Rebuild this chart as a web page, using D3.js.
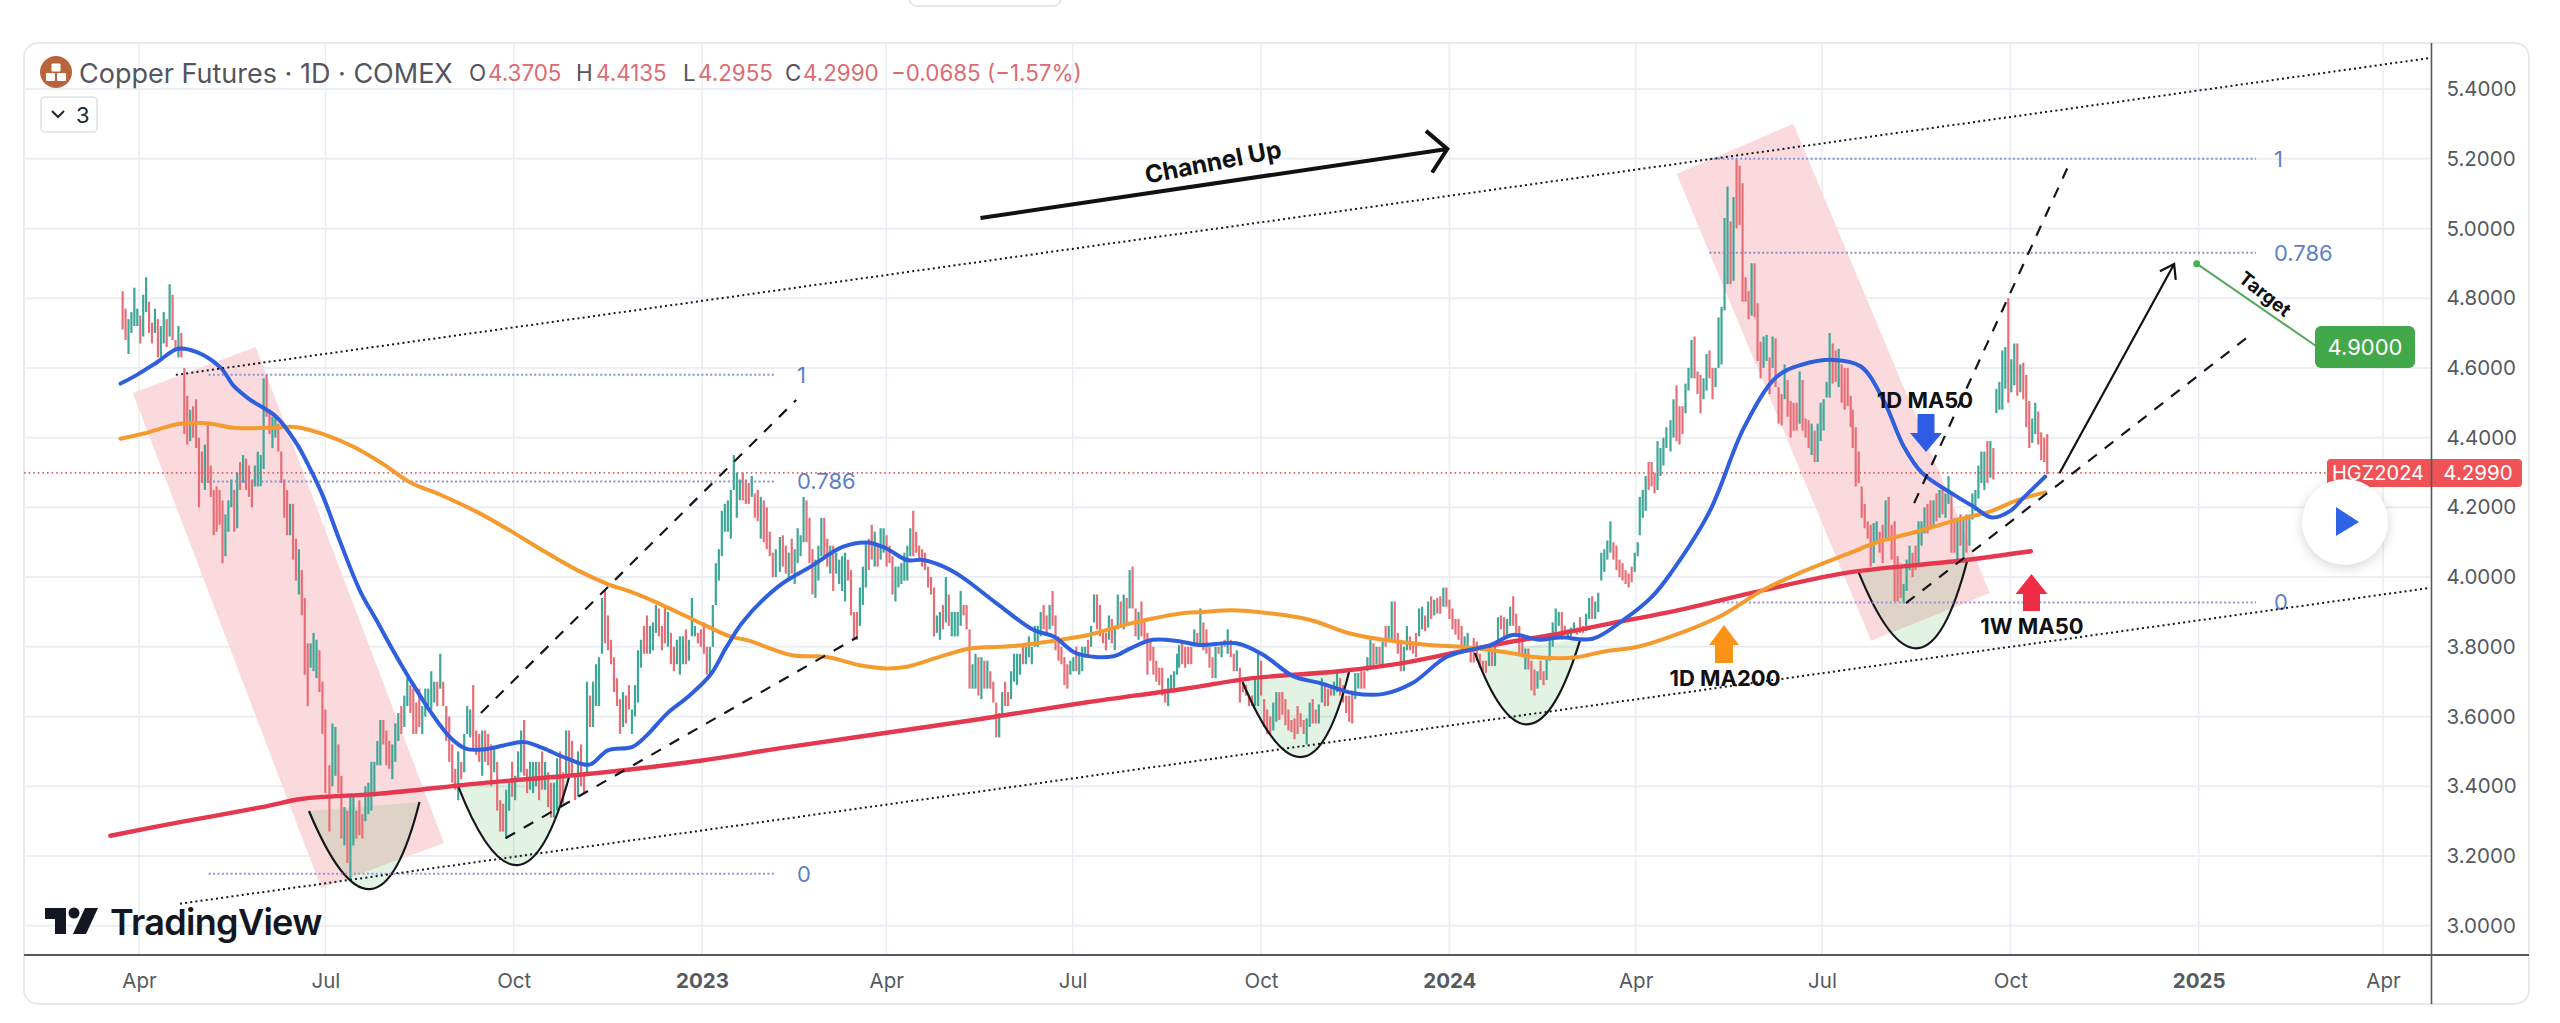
<!DOCTYPE html>
<html>
<head>
<meta charset="utf-8">
<title>Copper Futures</title>
<script src="https://cdn.jsdelivr.net/npm/d3@7"></script>
<style>
  html, body { margin: 0; padding: 0; background: #fff; }
  svg { display: block; font-family: Inter, "Noto Sans", sans-serif; }
</style>
</head>
<body>
<svg id="chart" width="2560" height="1023"></svg>
<script>
// ticks
const priceTicks = [3.0, 3.2, 3.4, 3.6, 3.8, 4.0, 4.2, 4.4, 4.6, 4.8, 5.0, 5.2, 5.4];
const timeTickDates = ["2022-04-01", "2022-07-01", "2022-10-01", "2023-01-01", "2023-04-01", "2023-07-01", "2023-10-01", "2024-01-01", "2024-04-01", "2024-07-01", "2024-10-01", "2025-01-01", "2025-04-01"];
const timeTickLabels = ["Apr", "Jul", "Oct", "2023", "Apr", "Jul", "Oct", "2024", "Apr", "Jul", "Oct", "2025", "Apr"];

// daily bars, one run per stretch of the chart, spread evenly between its two dates.
// Each bar is [from, to]: from > to is a falling (red) bar, from < to a rising (green) one
const barsSpring2022Dates = ["2022-03-24", "2022-07-01"];
const barsSpring2022 = [[4.82,4.71],[4.77,4.68],[4.64,4.74],[4.70,4.76],[4.72,4.83],[4.72,4.77],[4.75,4.67],[4.69,4.81],[4.76,4.86],[4.79,4.70],[4.73,4.67],[4.70,4.77],[4.74,4.63],[4.63,4.72],[4.67,4.76],[4.74,4.66],[4.69,4.84],[4.81,4.68],[4.68,4.65],[4.63,4.72],[4.70,4.63],[4.60,4.41],[4.52,4.38],[4.39,4.48],[4.49,4.40],[4.51,4.37],[4.40,4.20],[4.36,4.27],[4.25,4.38],[4.44,4.27],[4.32,4.23],[4.25,4.12],[4.26,4.13],[4.25,4.15],[4.22,4.04],[4.06,4.18],[4.13,4.22],[4.20,4.28],[4.25,4.13],[4.14,4.30],[4.33,4.25],[4.27,4.35],[4.34,4.25],[4.32,4.23],[4.28,4.20],[4.26,4.32],[4.26,4.36],[4.26,4.35],[4.31,4.57],[4.58,4.46],[4.48,4.41],[4.37,4.46],[4.40,4.46],[4.44,4.36],[4.36,4.27],[4.28,4.17],[4.25,4.12],[4.12,4.21],[4.21,4.05],[4.11,3.99],[3.95,4.08],[4.02,3.89],[3.94,3.72],[3.81,3.63],[3.74,3.81],[3.73,3.84],[3.71,3.82],[3.79,3.67],[3.70,3.55],[3.62,3.38]];

const barsSummer2022Dates = ["2022-07-03", "2023-02-06"];
const barsSummer2022 = [[3.46,3.27],[3.40,3.58],[3.43,3.57],[3.52,3.38],[3.43,3.25],[3.23,3.34],[3.33,3.18],[3.13,3.38],[3.23,3.37],[3.33,3.25],[3.36,3.26],[3.32,3.25],[3.30,3.40],[3.32,3.41],[3.33,3.47],[3.37,3.47],[3.46,3.53],[3.46,3.59],[3.59,3.52],[3.56,3.46],[3.53,3.45],[3.42,3.52],[3.47,3.58],[3.53,3.61],[3.63,3.55],[3.57,3.66],[3.63,3.71],[3.69,3.61],[3.68,3.55],[3.64,3.55],[3.68,3.57],[3.55,3.63],[3.60,3.68],[3.63,3.68],[3.62,3.73],[3.64,3.70],[3.70,3.63],[3.68,3.78],[3.70,3.63],[3.63,3.53],[3.60,3.47],[3.52,3.41],[3.45,3.39],[3.36,3.50],[3.47,3.42],[3.44,3.55],[3.55,3.63],[3.54,3.62],[3.69,3.51],[3.56,3.49],[3.55,3.47],[3.43,3.56],[3.56,3.47],[3.55,3.46],[3.52,3.40],[3.44,3.51],[3.47,3.33],[3.36,3.27],[3.35,3.27],[3.25,3.39],[3.33,3.41],[3.47,3.37],[3.36,3.43],[3.42,3.50],[3.44,3.56],[3.59,3.43],[3.45,3.38],[3.39,3.47],[3.38,3.47],[3.40,3.47],[3.47,3.36],[3.50,3.39],[3.39,3.47],[3.44,3.34],[3.41,3.31],[3.31,3.41],[3.33,3.48],[3.50,3.35],[3.44,3.35],[3.43,3.56],[3.56,3.43],[3.53,3.43],[3.43,3.36],[3.37,3.50],[3.52,3.40],[3.44,3.38],[3.43,3.70],[3.66,3.57],[3.57,3.70],[3.63,3.75],[3.63,3.77],[3.78,3.94],[3.96,3.81],[3.89,3.79],[3.82,3.75],[3.77,3.67],[3.71,3.63],[3.65,3.55],[3.57,3.67],[3.66,3.58],[3.69,3.62],[3.55,3.62],[3.60,3.69],[3.64,3.79],[3.74,3.82],[3.86,3.78],[3.89,3.78],[3.78,3.86],[3.79,3.87],[3.84,3.92],[3.91,3.83],[3.86,3.79],[3.92,3.81],[3.80,3.90],[3.84,3.75],[3.80,3.73],[3.75,3.82],[3.72,3.83],[3.75,3.83],[3.85,3.75],[3.76,3.82],[3.83,3.94],[3.83,3.86],[3.84,3.81],[3.85,3.80],[3.87,3.78],[3.80,3.72],[3.72,3.80],[3.80,3.92],[3.92,4.04],[3.99,4.08],[4.06,4.19],[4.13,4.21],[4.13,4.22],[4.11,4.25],[4.25,4.35],[4.17,4.30],[4.22,4.28],[4.30,4.22],[4.28,4.21],[4.27,4.21],[4.23,4.29],[4.24,4.17],[4.25,4.16],[4.11,4.23],[4.22,4.10],[4.20,4.08],[4.13,4.06],[4.07,4.00],[4.00,4.08]];

const barsSpring2023Dates = ["2023-02-08", "2023-08-21"];
const barsSpring2023 = [[4.015,4.115],[4.12,4.03],[4.09,4.01],[3.99,4.07],[4.11,4.01],[3.98,4.08],[4.04,4.14],[4.06,4.12],[4.10,4.23],[4.22,4.10],[4.17,4.04],[4.08,3.95],[3.94,4.05],[3.99,4.09],[4.06,4.17],[4.17,4.06],[4.11,4.03],[4.01,4.09],[4.09,3.96],[4.01,4.07],[3.98,4.05],[3.96,4.06],[3.93,4.07],[4.05,3.99],[4.02,3.89],[3.90,3.82],[3.90,3.82],[3.86,3.97],[3.92,4.03],[3.97,4.10],[4.11,4.02],[4.15,4.05],[4.03,4.13],[4.09,4.03],[4.05,4.14],[4.07,4.14],[4.12,4.03],[4.09,4.04],[4.06,3.95],[3.93,4.03],[3.97,4.03],[3.98,4.04],[3.99,4.07],[3.99,4.09],[4.06,4.14],[4.19,4.06],[4.13,4.07],[4.09,4.05],[4.08,4.03],[4.07,4.02],[4.03,3.97],[4.00,3.95],[3.97,3.83],[3.84,3.89],[3.82,3.90],[3.92,3.85],[3.87,4.00],[3.95,3.86],[3.83,3.90],[3.83,3.90],[3.83,3.90],[3.86,3.96],[3.92,3.89],[3.92,3.85],[3.85,3.68],[3.68,3.75],[3.68,3.78],[3.77,3.66],[3.65,3.77],[3.76,3.68],[3.68,3.76],[3.73,3.68],[3.70,3.64],[3.64,3.54],[3.54,3.61],[3.60,3.67],[3.70,3.63],[3.67,3.63],[3.65,3.73],[3.70,3.78],[3.69,3.78],[3.72,3.78],[3.80,3.75],[3.75,3.80],[3.77,3.83],[3.75,3.80],[3.80,3.86],[3.80,3.86],[3.83,3.90],[3.92,3.85],[3.89,3.84],[3.85,3.92],[3.96,3.86],[3.89,3.79],[3.83,3.76],[3.80,3.75],[3.77,3.69],[3.75,3.68],[3.72,3.76],[3.73,3.77],[3.80,3.73],[3.72,3.78],[3.73,3.80],[3.77,3.80],[3.82,3.77],[3.80,3.86],[3.87,3.95],[3.95,3.85],[3.92,3.83],[3.85,3.81],[3.84,3.79],[3.82,3.89],[3.88,3.81],[3.79,3.86],[3.85,3.95],[3.93,3.86],[3.85,3.95],[3.94,3.86],[3.91,4.02],[4.03,3.91],[3.91,3.83],[3.82,3.90],[3.93,3.83],[3.88,3.82],[3.84,3.72],[3.82,3.76],[3.80,3.72],[3.76,3.70],[3.74,3.69],[3.74,3.66],[3.68,3.64],[3.63,3.71],[3.67,3.72],[3.68,3.73],[3.72,3.78]];

const barsAutumn2023Dates = ["2023-08-22", "2024-04-02"];
const barsAutumn2023 = [[3.74,3.805],[3.81,3.75],[3.80,3.74],[3.80,3.75],[3.80,3.75],[3.81,3.85],[3.84,3.81],[3.81,3.91],[3.87,3.79],[3.85,3.78],[3.80,3.74],[3.77,3.71],[3.71,3.80],[3.80,3.78],[3.77,3.81],[3.82,3.80],[3.78,3.85],[3.82,3.77],[3.78,3.73],[3.73,3.79],[3.74,3.64],[3.70,3.67],[3.69,3.66],[3.66,3.63],[3.66,3.63],[3.63,3.71],[3.63,3.78],[3.76,3.66],[3.65,3.57],[3.62,3.55],[3.60,3.55],[3.56,3.64],[3.585,3.67],[3.67,3.59],[3.67,3.605],[3.65,3.575],[3.62,3.56],[3.59,3.555],[3.595,3.535],[3.63,3.55],[3.61,3.57],[3.59,3.55],[3.52,3.595],[3.57,3.64],[3.65,3.58],[3.62,3.58],[3.58,3.635],[3.64,3.71],[3.69,3.63],[3.68,3.63],[3.69,3.66],[3.66,3.70],[3.67,3.725],[3.71,3.66],[3.69,3.64],[3.66,3.61],[3.66,3.585],[3.675,3.58],[3.65,3.725],[3.68,3.725],[3.73,3.68],[3.73,3.68],[3.73,3.77],[3.74,3.82],[3.81,3.74],[3.75,3.80],[3.80,3.75],[3.75,3.815],[3.86,3.80],[3.815,3.86],[3.82,3.93],[3.93,3.815],[3.84,3.78],[3.82,3.73],[3.73,3.80],[3.79,3.86],[3.83,3.79],[3.815,3.78],[3.84,3.77],[3.83,3.91],[3.85,3.915],[3.89,3.845],[3.855,3.93],[3.945,3.88],[3.89,3.935],[3.94,3.895],[3.945,3.895],[3.915,3.97],[3.97,3.915],[3.935,3.88],[3.91,3.85],[3.88,3.835],[3.88,3.82],[3.86,3.805],[3.79,3.83],[3.79,3.84],[3.79,3.755],[3.825,3.755],[3.815,3.76],[3.78,3.74],[3.76,3.73],[3.76,3.725],[3.745,3.79],[3.79,3.745],[3.745,3.80],[3.815,3.885],[3.89,3.85],[3.885,3.83],[3.825,3.88],[3.86,3.915],[3.945,3.86],[3.895,3.84],[3.86,3.78],[3.82,3.77],[3.735,3.795],[3.795,3.735],[3.76,3.675],[3.735,3.66],[3.68,3.73],[3.76,3.705],[3.73,3.69],[3.705,3.77],[3.76,3.84],[3.80,3.87],[3.825,3.91],[3.86,3.90],[3.90,3.82],[3.86,3.835],[3.83,3.85],[3.83,3.855],[3.84,3.87],[3.855,3.835],[3.885,3.84],[3.86,3.84],[3.845,3.895],[3.88,3.94],[3.945,3.88],[3.88,3.93],[3.90,3.955],[3.99,4.07],[4.015,4.08],[4.05,4.105],[4.07,4.16],[4.10,4.05],[4.09,4.02],[4.05,4.00],[4.04,3.99],[4.02,3.98],[4.01,3.97],[4.03,3.985],[4.015,4.07],[4.06,4.10]];

const barsApril2024Dates = ["2024-04-03", "2024-04-16"];
const barsApril2024 = [[4.12,4.23],[4.17,4.25],[4.19,4.29],[4.33,4.25],[4.33,4.26],[4.30,4.24],[4.25,4.39],[4.29,4.37],[4.32,4.40],[4.37,4.43]];

const barsMay2024Dates = ["2024-04-18", "2024-07-15"];
const barsMay2024 = [[4.36,4.45],[4.40,4.51],[4.55,4.39],[4.49,4.38],[4.49,4.41],[4.47,4.555],[4.535,4.60],[4.57,4.68],[4.69,4.57],[4.59,4.525],[4.58,4.47],[4.51,4.57],[4.535,4.64],[4.65,4.57],[4.60,4.51],[4.545,4.60],[4.60,4.745],[4.61,4.775],[4.765,5.03],[4.84,5.12],[5.02,4.84],[4.85,5.09],[5.20,5.00],[5.18,5.01],[5.13,4.79],[4.86,4.79],[4.82,4.74],[4.75,4.90],[4.90,4.745],[4.785,4.62],[4.675,4.57],[4.60,4.69],[4.62,4.695],[4.63,4.525],[4.60,4.69],[4.685,4.545],[4.545,4.44],[4.525,4.435],[4.51,4.61],[4.565,4.46],[4.505,4.40],[4.50,4.42],[4.50,4.42],[4.44,4.59],[4.565,4.42],[4.455,4.40],[4.45,4.37],[4.35,4.44],[4.42,4.33],[4.33,4.44],[4.39,4.50],[4.42,4.51],[4.515,4.56],[4.515,4.70],[4.67,4.555],[4.65,4.56],[4.545,4.655],[4.61,4.50],[4.60,4.48],[4.60,4.49],[4.52,4.43]];

const barsJuly2024Dates = ["2024-07-16", "2024-10-19"];
const barsJuly2024 = [[4.48,4.37],[4.43,4.26],[4.36,4.27],[4.26,4.17],[4.21,4.14],[4.16,4.11],[4.15,4.03],[4.04,4.155],[4.10,4.16],[4.13,4.07],[4.15,4.04],[4.11,4.22],[4.23,4.11],[4.15,4.05],[4.16,3.93],[4.06,3.93],[4.03,3.94],[3.925,3.98],[3.96,4.05],[4.02,4.09],[4.07,4.00],[4.09,4.02],[4.04,4.16],[4.09,4.16],[4.125,4.20],[4.21,4.125],[4.22,4.14],[4.15,4.22],[4.24,4.16],[4.17,4.25],[4.26,4.18],[4.17,4.24],[4.21,4.29],[4.24,4.07],[4.17,4.07],[4.05,4.17],[4.18,4.09],[4.05,4.165],[4.18,4.07],[4.09,4.18],[4.165,4.24],[4.19,4.25],[4.225,4.32],[4.27,4.36],[4.25,4.36],[4.39,4.27],[4.285,4.39],[4.37,4.28],[4.47,4.54],[4.48,4.56],[4.48,4.65],[4.54,4.66],[4.80,4.50],[4.53,4.625],[4.55,4.67],[4.67,4.52],[4.53,4.61],[4.615,4.51],[4.58,4.43],[4.505,4.37],[4.385,4.455],[4.41,4.50],[4.475,4.38],[4.415,4.335],[4.40,4.33],[4.41,4.295]];

// moving averages: days after 2022-04-01 and price
const dayZero = "2022-04-01";
const ma50Days = [-9,-1,9,19,28,40,46,54,67,77,84,90,98,108,116,124,132,142,152,160,170,178,188,197,209,220,229,241,248,258,268,279,287,295,312,328,344,356,365,375,383,393,402,419,437,447,458,476,484,495,508,518,536,549,564,577,593,608,622,639,660,671,684,694,710,725,739,748,767,784,800,812,828,841,852,862,871,884,896,905,914,920,931];
const ma50Values = [4.555,4.58,4.617,4.655,4.646,4.60,4.55,4.51,4.46,4.383,4.306,4.23,4.105,3.96,3.876,3.79,3.71,3.617,3.54,3.507,3.507,3.517,3.527,3.51,3.48,3.462,3.503,3.513,3.546,3.609,3.656,3.719,3.80,3.872,3.972,4.03,4.087,4.099,4.082,4.049,4.049,4.03,4.00,3.924,3.848,3.829,3.781,3.773,3.795,3.82,3.816,3.805,3.81,3.777,3.715,3.696,3.667,3.665,3.696,3.772,3.805,3.834,3.82,3.827,3.823,3.877,3.944,4.01,4.187,4.43,4.575,4.609,4.623,4.604,4.508,4.374,4.298,4.245,4.202,4.171,4.19,4.225,4.288];

const ma200Days = [-9,2,20,35,46,63,77,90,105,119,132,148,165,181,197,214,229,240,254,271,289,297,319,336,352,365,375,391,406,427,443,463,481,495,508,520,534,552,572,591,608,630,647,666,683,702,715,732,748,773,793,812,836,849,868,888,905,917,931];
const ma200Values = [4.397,4.411,4.44,4.44,4.428,4.428,4.43,4.41,4.373,4.325,4.273,4.234,4.187,4.134,4.077,4.02,3.98,3.958,3.924,3.877,3.829,3.819,3.776,3.771,3.747,3.738,3.743,3.771,3.795,3.802,3.814,3.833,3.862,3.881,3.895,3.90,3.905,3.896,3.877,3.839,3.82,3.805,3.799,3.786,3.77,3.77,3.786,3.80,3.829,3.89,3.962,4.014,4.07,4.10,4.13,4.164,4.19,4.22,4.243];

const weekly50Days = [-14,20,60,80,116,171,219,275,311,355,411,463,510,544,585,617,645,666,695,723,748,793,836,888,924];
const weekly50Values = [3.258,3.297,3.34,3.364,3.378,3.411,3.435,3.474,3.507,3.545,3.593,3.641,3.679,3.71,3.729,3.753,3.786,3.81,3.839,3.872,3.90,3.962,4.014,4.046,4.074];

// chart drawings, as [day, price]
const channelTop = [[18, 4.58], [1119, 5.489]];
const channelBottom = [[20, 3.063], [1119, 3.969]];
const fibLevels = ["1", "0.786", "0"];
const fibLeftDays = [34, 311];
const fibLeftPrices = [4.58, 4.274, 3.149];
const fibRightDays = [767, 1034];
const fibRightPrices = [5.2, 4.93, 3.927];
const fibColors = ["#7e9ad8", "#8d8fc4", "#9a94cc"];
const fallingBands = [
  [[-3, 4.528], [57, 4.66], [149, 3.237], [89, 3.108]],
  [[751, 5.156], [808, 5.30], [904, 3.954], [846, 3.817]]
];
const cups = [
  [[83, 3.329], [113, 3.105], [137, 3.355]],
  [[156, 3.398], [185, 3.174], [210, 3.426]],
  [[539, 3.699], [568, 3.484], [591, 3.728]],
  [[652.5, 3.782], [679, 3.578], [704, 3.822]],
  [[840, 4.012], [869, 3.796], [893, 4.049]]
];
const dashedLines = [
  [[167, 3.61], [321, 4.508]],
  [[179, 3.251], [351, 3.828]],
  [[867, 4.212], [943, 5.188]],
  [[863, 3.925], [1030, 4.689]]
];
const channelArrow = [[411, 5.03], [639, 5.228]];
const projectionArrow = [[938, 4.298], [994, 4.898]];
const lastPrice = 4.299;
const targetPoint = [1005, 4.899];

const svg = d3.select("#chart");
const plot = { left: 24, right: 2431.5, top: 43, bottom: 955, cardRight: 2529, cardBottom: 1004 };

const parseDay = d3.utcParse("%Y-%m-%d");
const x = d3.scaleUtc()
  .domain([parseDay("2022-04-01"), parseDay("2025-04-01")])
  .range([139, 2383]);
const y = d3.scaleLinear().domain([3.0, 5.4]).range([925.7, 89]);

const dayX = (d) => x(d3.utcHour.offset(parseDay(dayZero), d * 24));
const point = ([d, p]) => [dayX(d), y(p)];

function barRun(dates, bars) {
  const t = d3.scaleLinear()
    .domain([0, bars.length - 1])
    .range(dates.map((d) => +parseDay(d)));
  return bars.map((b, i) => ({ date: new Date(t(i)), from: b[0], to: b[1] }));
}

const allBars = [
  ...barRun(barsSpring2022Dates, barsSpring2022),
  ...barRun(barsSummer2022Dates, barsSummer2022),
  ...barRun(barsSpring2023Dates, barsSpring2023),
  ...barRun(barsAutumn2023Dates, barsAutumn2023),
  ...barRun(barsApril2024Dates, barsApril2024),
  ...barRun(barsMay2024Dates, barsMay2024),
  ...barRun(barsJuly2024Dates, barsJuly2024)
];

// card
svg.append("rect")
  .attr("x", 909).attr("y", -20).attr("width", 152).attr("height", 26).attr("rx", 8)
  .attr("fill", "#fff").attr("stroke", "#e4e6ea").attr("stroke-width", 2);
svg.append("rect")
  .attr("x", plot.left).attr("y", plot.top)
  .attr("width", plot.cardRight - plot.left).attr("height", plot.cardBottom - plot.top)
  .attr("rx", 14).attr("fill", "#fff").attr("stroke", "#e7e9ed").attr("stroke-width", 2);

// grid
svg.append("g").selectAll("line").data(priceTicks).join("line")
  .attr("x1", plot.left).attr("x2", plot.right)
  .attr("y1", (d) => y(d)).attr("y2", (d) => y(d))
  .attr("stroke", "#ebeef2").attr("stroke-width", 2);
svg.append("g").selectAll("line").data(timeTickDates).join("line")
  .attr("x1", (d) => x(parseDay(d))).attr("x2", (d) => x(parseDay(d)))
  .attr("y1", plot.top).attr("y2", plot.bottom)
  .attr("stroke", "#e8eef3").attr("stroke-width", 1.5);

// falling channels and cups sit behind the bars
const polyLine = d3.line();
svg.append("g").selectAll("path").data(fallingBands).join("path")
  .attr("d", (d) => polyLine(d.map(point)) + "Z")
  .attr("fill", "#fbdadd");

function cupPath(cup) {
  const [a, b, c] = cup.map(point);
  const cx = 2 * b[0] - (a[0] + c[0]) / 2;
  const cy = 2 * b[1] - (a[1] + c[1]) / 2;
  return `M${a[0]},${a[1]}Q${cx},${cy} ${c[0]},${c[1]}`;
}
svg.append("g").selectAll("path").data(cups).join("path")
  .attr("d", cupPath)
  .attr("fill", "#4caf50").attr("fill-opacity", 0.16)
  .attr("stroke", "none");

// bars
svg.append("g").selectAll("line").data(allBars).join("line")
  .attr("x1", (d) => x(d.date)).attr("x2", (d) => x(d.date))
  .attr("y1", (d) => y(d.from)).attr("y2", (d) => y(d.to))
  .attr("stroke", (d) => (d.to > d.from ? "#3ea797" : "#e66f77"))
  .attr("stroke-width", 2.2);

svg.append("g").selectAll("path").data(cups).join("path")
  .attr("d", cupPath)
  .attr("fill", "none").attr("stroke", "#15171c").attr("stroke-width", 2.2);

// price line
svg.append("line")
  .attr("x1", plot.left).attr("x2", 2327)
  .attr("y1", y(lastPrice)).attr("y2", y(lastPrice))
  .attr("stroke", "#d9636b").attr("stroke-width", 1.6).attr("stroke-dasharray", "1.6 3");

// fibonacci levels
function drawFib(days, prices, labelX) {
  const g = svg.append("g");
  prices.forEach((p, i) => {
    g.append("line")
      .attr("x1", dayX(days[0])).attr("x2", dayX(days[1]))
      .attr("y1", y(p)).attr("y2", y(p))
      .attr("stroke", fibColors[i]).attr("stroke-width", 2).attr("stroke-dasharray", "2 2.4");
    g.append("text")
      .attr("x", labelX).attr("y", y(p)).attr("dy", "0.36em")
      .attr("font-size", 22).attr("fill", "#5f7fc9")
      .text(fibLevels[i]);
  });
}
drawFib(fibLeftDays, fibLeftPrices, 797);
drawFib(fibRightDays, fibRightPrices, 2274);

// moving averages
const maLine = d3.line()
  .x((d) => d[0]).y((d) => d[1])
  .curve(d3.curveCatmullRom.alpha(0.5));
function drawMa(days, values, color, width) {
  svg.append("path")
    .attr("d", maLine(days.map((d, i) => point([d, values[i]]))))
    .attr("fill", "none").attr("stroke", color)
    .attr("stroke-width", width).attr("stroke-linecap", "round");
}
drawMa(weekly50Days, weekly50Values, "#e4384f", 4.4);
drawMa(ma200Days, ma200Values, "#f59a2e", 4);
drawMa(ma50Days, ma50Values, "#2f5fdc", 4);

// channel lines
[channelTop, channelBottom].forEach((line) => {
  svg.append("path")
    .attr("d", polyLine(line.map(point)))
    .attr("stroke", "#15171c").attr("stroke-width", 2).attr("stroke-dasharray", "2 3.2");
});
dashedLines.forEach((line) => {
  svg.append("path")
    .attr("d", polyLine(line.map(point)))
    .attr("stroke", "#15171c").attr("stroke-width", 2.2).attr("stroke-dasharray", "11 10");
});

// open headed arrows
function drawArrow(line, width, head, spread) {
  const [a, b] = line.map(point);
  const angle = Math.atan2(b[1] - a[1], b[0] - a[0]);
  const tip = (sign) => [
    b[0] - head * Math.cos(angle + sign * spread),
    b[1] - head * Math.sin(angle + sign * spread)
  ];
  svg.append("path")
    .attr("d", polyLine([a, b]) + "M" + polyLine([tip(1), b, tip(-1)]).slice(1))
    .attr("fill", "none").attr("stroke", "#111").attr("stroke-width", width);
}
drawArrow(channelArrow, 4, 28, 0.85);
drawArrow(projectionArrow, 2.2, 16, 0.6);

svg.append("text")
  .attr("transform", "translate(1213,162) rotate(-11)")
  .attr("text-anchor", "middle").attr("dy", "0.35em")
  .attr("font-size", 24.5).attr("font-weight", 700).attr("fill", "#111")
  .text("Channel Up");

// block arrows with their labels
function blockArrow(cx, tipY, headY, endY, half, shaft, color) {
  svg.append("path")
    .attr("d", polyLine([[cx, tipY], [cx + half, headY], [cx + shaft, headY], [cx + shaft, endY], [cx - shaft, endY], [cx - shaft, headY], [cx - half, headY]]) + "Z")
    .attr("fill", color);
}
blockArrow(1926, 452, 433, 414, 16, 8.5, "#2e5be6");
blockArrow(2031.5, 574, 594, 611, 16, 8.5, "#f02c45");
blockArrow(1724, 625, 645, 663, 15, 9, "#fb9416");

const maLabels = [["1D MA50", 1925, 400], ["1W MA50", 2032, 626], ["1D MA200", 1725, 678]];
svg.append("g").selectAll("text").data(maLabels).join("text")
  .attr("x", (d) => d[1]).attr("y", (d) => d[2]).attr("dy", "0.36em")
  .attr("text-anchor", "middle")
  .attr("font-size", 22).attr("font-weight", 700).attr("fill", "#111")
  .text((d) => d[0]);

// target callout
const [targetX, targetY] = point(targetPoint);
svg.append("line")
  .attr("x1", targetX).attr("y1", targetY).attr("x2", 2316).attr("y2", 346)
  .attr("stroke", "#56a85c").attr("stroke-width", 2);
svg.append("circle")
  .attr("cx", targetX).attr("cy", targetY).attr("r", 3.5).attr("fill", "#4caf50");
svg.append("text")
  .attr("transform", "translate(2265,294) rotate(38)")
  .attr("text-anchor", "middle").attr("dy", "0.35em")
  .attr("font-size", 19).attr("font-weight", 700).attr("fill", "#111")
  .text("Target");
svg.append("rect")
  .attr("x", 2315).attr("y", 326).attr("width", 100).attr("height", 42).attr("rx", 6)
  .attr("fill", "#43a84a");
svg.append("text")
  .attr("x", 2365).attr("y", 347).attr("dy", "0.36em").attr("text-anchor", "middle")
  .attr("font-size", 22).attr("fill", "#fff")
  .text("4.9000");

// axes
const yAxis = d3.axisRight(y)
  .tickValues(priceTicks).tickSize(0).tickPadding(15)
  .tickFormat(d3.format(".4f"));
const xAxis = d3.axisBottom(x)
  .tickValues(timeTickDates.map(parseDay)).tickSize(0).tickPadding(18)
  .tickFormat((d, i) => timeTickLabels[i]);

const yG = svg.append("g").attr("transform", `translate(${plot.right},0)`).call(yAxis);
yG.select(".domain").remove();
yG.selectAll("text").attr("font-size", 20.5).attr("fill", "#555a60").attr("font-family", "Inter");

const xG = svg.append("g").attr("transform", `translate(0,${plot.bottom})`).call(xAxis);
xG.select(".domain").remove();
xG.selectAll("text")
  .attr("font-size", 20.5).attr("fill", "#555a60").attr("font-family", "Inter")
  .attr("font-weight", (d, i) => (timeTickLabels[i].length === 4 ? 700 : 400));

// price tag
svg.append("rect")
  .attr("x", 2327).attr("y", 459).attr("width", 195).attr("height", 28).attr("rx", 4)
  .attr("fill", "#ef5257");
svg.append("text")
  .attr("x", 2378).attr("y", 473).attr("dy", "0.36em").attr("text-anchor", "middle")
  .attr("font-size", 20).attr("fill", "#fff").text("HGZ2024");
svg.append("text")
  .attr("x", 2478).attr("y", 473).attr("dy", "0.36em").attr("text-anchor", "middle")
  .attr("font-size", 20.5).attr("fill", "#fff").text("4.2990");

svg.append("line")
  .attr("x1", plot.left).attr("x2", plot.cardRight)
  .attr("y1", plot.bottom).attr("y2", plot.bottom)
  .attr("stroke", "#55585e").attr("stroke-width", 2);
svg.append("line")
  .attr("x1", plot.right).attr("x2", plot.right)
  .attr("y1", plot.top).attr("y2", plot.cardBottom)
  .attr("stroke", "#55585e").attr("stroke-width", 1.6);

// play button
svg.append("circle")
  .attr("cx", 2345).attr("cy", 522).attr("r", 43)
  .attr("fill", "#fff").style("filter", "drop-shadow(0 3px 6px rgba(0,0,0,0.16))");
svg.append("path")
  .attr("d", polyLine([[2336, 507], [2359, 522], [2336, 536]]) + "Z")
  .attr("fill", "#2f63e8");

// header
svg.append("circle").attr("cx", 56).attr("cy", 72).attr("r", 16).attr("fill", "#b9653c");
svg.append("g").attr("fill", "#fff").selectAll("rect")
  .data([[51.5, 63.5], [46, 73], [57, 73]]).join("rect")
  .attr("x", (d) => d[0]).attr("y", (d) => d[1]).attr("width", 9).attr("height", 8).attr("rx", 1);
svg.append("text")
  .attr("x", 79).attr("y", 73).attr("dy", "0.36em")
  .attr("font-size", 27).attr("fill", "#53565c")
  .text("Copper Futures · 1D · COMEX");

const quoteLetters = [["O", 469], ["H", 576], ["L", 683], ["C", 785]];
const quoteValues = [["4.3705", 488], ["4.4135", 596], ["4.2955", 698], ["4.2990", 803], ["−0.0685 (−1.57%)", 891]];
svg.append("g").selectAll("text").data(quoteLetters).join("text")
  .attr("x", (d) => d[1]).attr("y", 73).attr("dy", "0.36em")
  .attr("font-size", 22.4).attr("fill", "#53565c").text((d) => d[0]);
svg.append("g").selectAll("text").data(quoteValues).join("text")
  .attr("x", (d) => d[1]).attr("y", 73).attr("dy", "0.36em")
  .attr("font-size", 22.4).attr("fill", "#dc6b72").text((d) => d[0]);

// collapsed indicators button
svg.append("rect")
  .attr("x", 41).attr("y", 97).attr("width", 56).attr("height", 35).attr("rx", 4)
  .attr("fill", "#fff").attr("stroke", "#dfe1e5").attr("stroke-width", 1.6);
svg.append("path")
  .attr("d", polyLine([[52, 111], [58, 117], [64, 111]]))
  .attr("fill", "none").attr("stroke", "#23262b").attr("stroke-width", 2);
svg.append("text")
  .attr("x", 76).attr("y", 115).attr("dy", "0.36em")
  .attr("font-size", 22).attr("fill", "#23262b").text("3");

// watermark
const mark = svg.append("g").attr("fill", "#131722");
mark.append("path").attr("d", polyLine([[45, 908], [66, 908], [66, 934], [55, 934], [55, 919], [45, 919]]) + "Z");
mark.append("circle").attr("cx", 74).attr("cy", 913).attr("r", 5.5);
mark.append("path").attr("d", polyLine([[85, 908], [98, 908], [86, 934], [73, 934]]) + "Z");
svg.append("text")
  .attr("x", 110).attr("y", 922).attr("dy", "0.36em")
  .attr("font-size", 36).attr("font-weight", 600).attr("letter-spacing", -0.7).attr("fill", "#131722")
  .text("TradingView");
</script>
</body>
</html>
